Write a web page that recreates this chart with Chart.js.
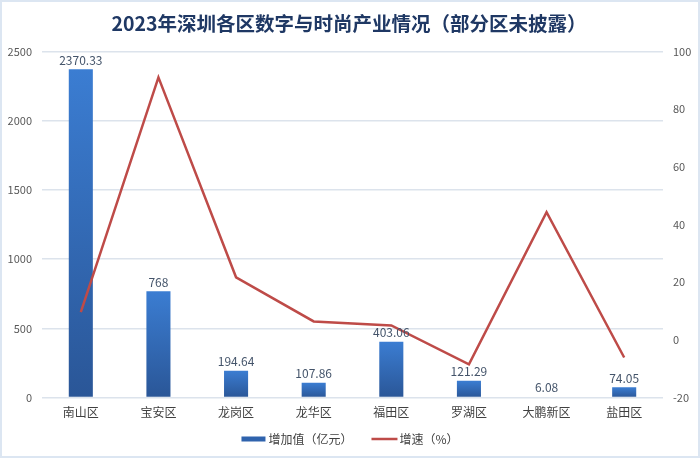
<!DOCTYPE html>
<html>
<head>
<meta charset="utf-8">
<script src="https://cdn.jsdelivr.net/npm/chart.js@4"></script>
<style>
  html, body { margin: 0; padding: 0; background: #fff; }
  #wrap { position: relative; width: 700px; height: 458px; box-sizing: border-box; border: 2px solid #dce6f2; }
</style>
</head>
<body>
<div id="wrap"><canvas id="chart"></canvas></div>
<script>
const districts = ['南山区', '宝安区', '龙岗区', '龙华区', '福田区', '罗湖区', '大鹏新区', '盐田区'];
const addedValue = [2370.33, 768, 194.64, 107.86, 403.06, 121.29, 6.08, 74.05];
const growthRate = [9.6, 91.0, 21.7, 6.4, 5.0, -8.5, 44.3, -6.1];
const leftTicks = [0, 500, 1000, 1500, 2000, 2500];
const rightTicks = [-20, 0, 20, 40, 60, 80, 100];

const FONT = '"Noto Sans CJK SC", "Noto Sans", sans-serif';
const BAR_COLOR = '#2f63ad';
const LINE_COLOR = '#be4b48';

// value labels above each bar
const barLabels = {
    id: 'barLabels',
    afterDatasetsDraw(chart) {
        const ctx = chart.ctx;
        const meta = chart.getDatasetMeta(1);
        ctx.save();
        ctx.font = '12px ' + FONT;
        ctx.fillStyle = '#44546a';
        ctx.textAlign = 'center';
        ctx.textBaseline = 'bottom';
        meta.data.forEach((bar, i) => {
            ctx.fillText(String(addedValue[i]), bar.x, bar.y - 3);
        });
        ctx.restore();
    }
};

// legend drawn by hand so the spacing can match
const bottomLegend = {
    id: 'bottomLegend',
    afterDraw(chart) {
        const ctx = chart.ctx;
        const y = chart.height - 17;
        ctx.save();
        ctx.font = '12px ' + FONT;
        ctx.textBaseline = 'middle';
        const t1 = '增加值（亿元）', t2 = '增速（%）';
        const w1 = ctx.measureText(t1).width, w2 = ctx.measureText(t2).width;
        const total = 27 + w1 + 19 + 28 + w2;
        let x = chart.width / 2 - total / 2;
        ctx.fillStyle = BAR_COLOR;
        ctx.fillRect(x, y - 2.5, 24, 5);
        ctx.fillStyle = '#404040';
        ctx.fillText(t1, x + 27, y);
        x += 27 + w1 + 19;
        ctx.strokeStyle = LINE_COLOR;
        ctx.lineWidth = 2.5;
        ctx.beginPath();
        ctx.moveTo(x, y);
        ctx.lineTo(x + 26, y);
        ctx.stroke();
        ctx.fillText(t2, x + 28, y);
        ctx.restore();
    }
};

function barGradient(context) {
    const chart = context.chart;
    if (!chart.chartArea) return BAR_COLOR;
    const y = chart.scales.y;
    const top = y.getPixelForValue(addedValue[context.dataIndex] || 0);
    const bottom = y.getPixelForValue(0);
    const g = chart.ctx.createLinearGradient(0, top, 0, Math.max(bottom, top + 1));
    g.addColorStop(0, '#3b7dd2');
    g.addColorStop(1, '#2a5697');
    return g;
}

new Chart(document.getElementById('chart').getContext('2d'), {
    data: {
        labels: districts,
        datasets: [
            {
                type: 'line',
                label: '增速（%）',
                data: growthRate,
                yAxisID: 'y1',
                borderColor: LINE_COLOR,
                backgroundColor: LINE_COLOR,
                borderWidth: 2.5,
                pointRadius: 0,
                tension: 0,
                order: 0
            },
            {
                type: 'bar',
                label: '增加值（亿元）',
                data: addedValue,
                yAxisID: 'y',
                backgroundColor: barGradient,
                barPercentage: 0.31,
                categoryPercentage: 1,
                order: 1
            }
        ]
    },
    options: {
        responsive: true,
        maintainAspectRatio: false,
        animation: false,
        layout: { padding: { left: 4, right: 6, top: 0, bottom: 36 } },
        plugins: {
            title: {
                display: true,
                text: '2023年深圳各区数字与时尚产业情况（部分区未披露）',
                color: '#1f3864',
                font: { family: FONT, size: 19.5, weight: 'bold' },
                padding: { top: 10, bottom: 16 }
            },
            legend: { display: false },
            tooltip: { enabled: false }
        },
        scales: {
            x: {
                grid: { display: false },
                border: { display: false },
                ticks: { color: '#404040', font: { family: FONT, size: 12 }, padding: 0 }
            },
            y: {
                position: 'left',
                min: 0,
                max: 2500,
                afterBuildTicks(axis) { axis.ticks = leftTicks.map(v => ({ value: v })); },
                afterFit(axis) { axis.width = 36; },
                grid: { color: '#dce3ec', lineWidth: 1.5, drawTicks: false },
                border: { display: false },
                ticks: { color: '#595959', font: { family: FONT, size: 11 }, padding: 10, callback: v => String(v) }
            },
            y1: {
                position: 'right',
                min: -20,
                max: 100,
                afterBuildTicks(axis) { axis.ticks = rightTicks.map(v => ({ value: v })); },
                afterFit(axis) { axis.width = 29; },
                grid: { display: false, drawTicks: false },
                border: { display: false },
                ticks: { color: '#595959', font: { family: FONT, size: 11 }, padding: 10, callback: v => String(v) }
            }
        }
    },
    plugins: [barLabels, bottomLegend]
});
</script>
</body>
</html>
